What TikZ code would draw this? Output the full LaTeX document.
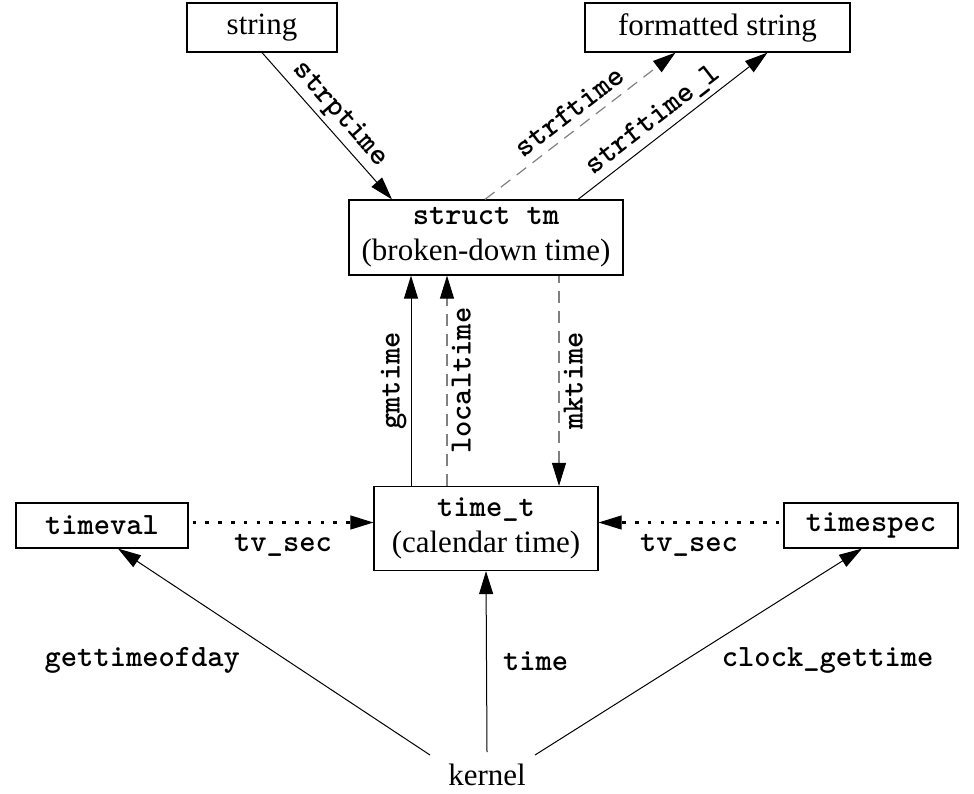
\documentclass[tikz,border=0pt]{standalone}
\usepackage{fontspec}
\setmainfont{Liberation Serif}
\usetikzlibrary{arrows.meta, calc}

\begin{document}
\begin{tikzpicture}[x=0.5pt, y=-0.5pt,
    >={Triangle[length=11.5pt, width=7pt, line width=0.5pt, color=black]},
    font=\fontsize{15.5}{18}\selectfont,
    tbox/.style={draw, line width=0.6pt, inner sep=0pt, align=center},
    arr/.style={->, line width=0.5pt},
    dasharr/.style={->, line width=0.6pt, gray, dash pattern=on 6pt off 4pt},
    dotarr/.style={->, line width=1.8pt, dash pattern=on 1.8pt off 4.6pt},
    fn/.style={font=\fontsize{15.5}{18}\selectfont\ttfamily\bfseries, inner sep=2pt, black}]
  \useasboundingbox (0,0) rectangle (974,793);

  % boxes
  \node[tbox, minimum width=75pt, minimum height=24.5pt] (str) at (262,27.5) {string};
  \node[tbox, minimum width=132.5pt, minimum height=24.5pt] (fmt) at (717.5,27.5) {formatted string};
  \node[tbox, minimum width=137pt, minimum height=37.5pt] (tm) at (486,237.5)
    {\texttt{\bfseries struct tm}\\(broken-down time)};
  \node[tbox, minimum width=112pt, minimum height=42pt] (timet) at (486,528.5)
    {\texttt{\bfseries time\_t}\\(calendar time)};
  \node[tbox, minimum width=86pt, minimum height=22.5pt] (timeval) at (102,525.5) {\texttt{\bfseries timeval}};
  \node[tbox, minimum width=87pt, minimum height=22.5pt] (timespec) at (871,525.5) {\texttt{\bfseries timespec}};
  \node (kernel) at (487,775) {kernel};

  % string <-> struct tm
  \draw[arr] (str.south) -- ($(tm.north)+(-94,0)$)
    node[midway, sloped, above, fn] {strptime};
  \draw[dasharr] ($(tm.north)+(-1,0)$) -- ($(fmt.south)+(-42,0)$)
    node[midway, sloped, above=2pt, fn] {strftime};
  \draw[arr] ($(tm.north)+(92,0)$) -- ($(fmt.south)+(50,0)$)
    node[pos=0.45, sloped, above, fn] {strftime\_l};

  % struct tm <-> time_t
  \draw[arr] ($(timet.north)+(-75,0)$) -- ($(tm.south)+(-75,0)$)
    node[midway, sloped, above, fn] {gmtime};
  \draw[dasharr] ($(timet.north)+(-39,0)$) -- ($(tm.south)+(-39,0)$)
    node[midway, sloped, below, fn] {localtime};
  \draw[dasharr, <-] ($(timet.north)+(73,0)$) -- ($(tm.south)+(73,0)$)
    node[midway, sloped, below, fn] {mktime};

  % seconds fields
  \draw[dotarr] ($(timeval.east)+(4,-3)$) -- ($(timeval.east -| timet.west)+(0,-3)$)
    node[midway, below=3pt, fn] {tv\_sec};
  \draw[dotarr] ($(timespec.west)+(-4,-3)$) -- ($(timespec.west -| timet.east)+(0,-3)$)
    node[midway, below=3pt, fn] {tv\_sec};

  % kernel calls
  \draw[arr] ($(kernel)+(-57,-20)$) -- ($(timeval.south)+(16,0)$)
    node[pos=0.46, left=21pt, fn] {gettimeofday};
  \draw[arr] ($(kernel)+(0,-23)$) -- (timet.south)
    node[midway, right=6pt, fn] {time};
  \draw[arr] ($(kernel)+(48,-20)$) -- ($(timespec.south)+(-9,0)$)
    node[pos=0.46, right=16pt, fn] {clock\_gettime};
\end{tikzpicture}
\end{document}
